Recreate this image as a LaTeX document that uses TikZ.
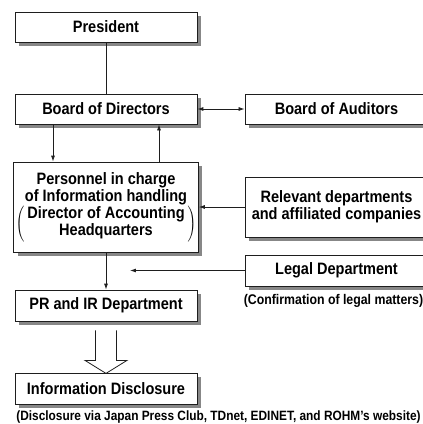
\documentclass[tikz,border=0pt]{standalone}
\usepackage{fontspec}
\setsansfont{Liberation Sans}[FakeStretch=0.88]
\usetikzlibrary{arrows.meta}
\definecolor{shadowgray}{RGB}{135,135,135}
\definecolor{ink}{RGB}{30,30,30}
\tikzstyle{box} = [draw=ink, fill=white, rectangle, line width=0.8pt,
    preaction={draw=none, fill=shadowgray, transform canvas={xshift=4pt, yshift=-4pt}},
    minimum width=182pt, minimum height=30pt, inner sep=2pt, align=center,
    font=\sffamily\bfseries\fontsize{16.5}{17}\selectfont]
\tikzstyle{sidebox} = [box, minimum width=183pt]
\tikzstyle{note} = [inner sep=0pt, font=\sffamily\bfseries\fontsize{14}{15}\selectfont]
\tikzstyle{link} = [line width=0.8pt, draw=ink]

\begin{document}
\begin{tikzpicture}[auto, x=1pt, y=1pt, node distance=82pt, >={Latex[length=6pt,width=4pt]}]
    \useasboundingbox (-106,27) rectangle (317,-397);
    % left column
    \node [box] (president) {President};
    \node [box, below of=president] (directors) {Board of Directors};
    \node [box, minimum height=90pt, below of=directors, node distance=98pt] (personnel)
        {Personnel in charge\\of Information handling\\
         $\left(\vcenter{\hbox{\begin{tabular}{@{\hspace{3pt}}c@{\hspace{3pt}}}Director of Accounting\\Headquarters\end{tabular}}}\right)$};
    \node [box, minimum height=31pt, below of=personnel, node distance=98.5pt] (pr) {PR and IR Department};
    \node [box, minimum height=31pt, below of=pr, node distance=83pt] (disclosure) {Information Disclosure};
    \node [note, below of=disclosure, node distance=28.5pt, xshift=112.5pt, font=\sffamily\bfseries\fontsize{13.5}{15}\selectfont] (channels)
        {(Disclosure via Japan Press Club, TDnet, EDINET, and ROHM's website)};
    % right column
    \node [sidebox, right of=directors, node distance=230.5pt] (auditors) {Board of Auditors};
    \node [sidebox, minimum height=60pt, right of=personnel, node distance=230.5pt] (relevant)
        {Relevant departments\\and affiliated companies};
    \node [sidebox, minimum height=31pt, below of=relevant, node distance=63.5pt] (legal) {Legal Department};
    \node [note, below of=legal, node distance=30pt, xshift=-3pt] (legalnote) {(Confirmation of legal matters)};
    \coordinate [left of=legal, node distance=206.5pt] (legalend);
    % connectors
    \draw [link] (president) -- (directors);
    \draw [link,<->] (directors) -- (auditors);
    \draw [link,->] ([xshift=-53pt]directors.south) -- ([xshift=-53pt]personnel.north);
    \draw [link,->] ([xshift=53pt]personnel.north) -- ([xshift=53pt]directors.south);
    \draw [link,->] (relevant) -- (personnel);
    \draw [link,->] (personnel) -- (pr);
    \draw [link,->] (legal) -- (legalend);
    \draw [link] ([shift={(-10.5,-9)}]pr.south) -- ++(0,-30) -- ++(-10.5,0) -- ++(21,-13)
        -- ++(21,13) -- ++(-10.5,0) -- ++(0,30);
\end{tikzpicture}
\end{document}
